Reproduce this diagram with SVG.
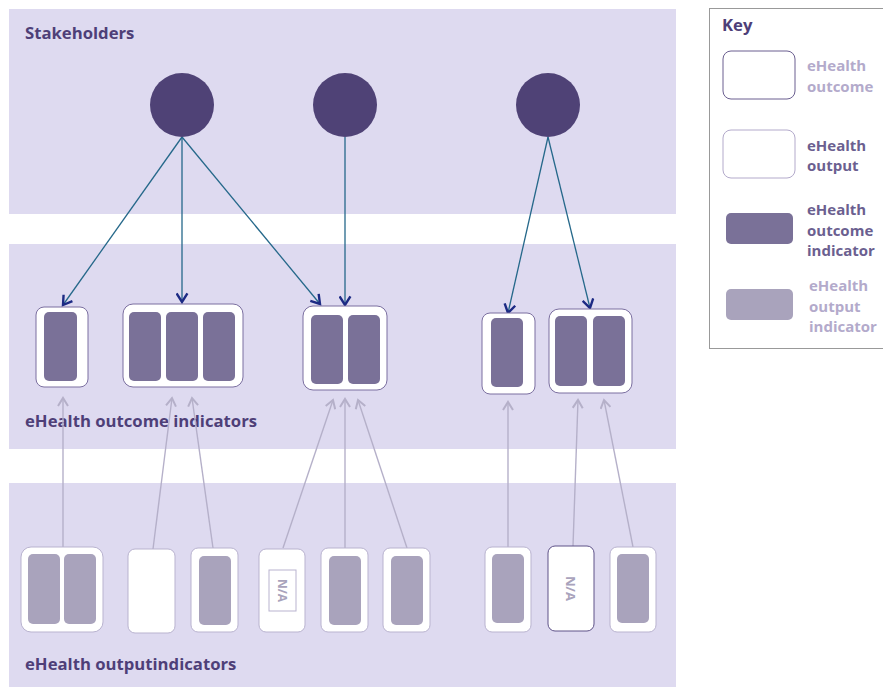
<svg xmlns="http://www.w3.org/2000/svg" width="883" height="687" viewBox="0 0 883 687">
<defs>
<style>
.band{fill:#dedaf0}
.lbl{font-family:"Open Sans","Liberation Sans",sans-serif;font-weight:bold;font-size:16.7px;fill:#4e3f78}
.klbl{font-family:"Open Sans","Liberation Sans",sans-serif;font-weight:bold;font-size:15px}
.dark{fill:#6b5f90}
.light{fill:#b3aacb}
.stake{fill:#4f4276}
.ocbox{fill:#fff;stroke:#7b6fa0;stroke-width:1}
.opbox{fill:#fff;stroke:#b9b3cf;stroke-width:1}
.oci{fill:#7a7198}
.opi{fill:#a9a3bc}
.blue{stroke:#25688a;stroke-width:1.3;fill:none;marker-end:url(#ab)}
.grey{stroke:#b5b0c9;stroke-width:1.4;fill:none;marker-end:url(#ag)}
.na{font-family:"Open Sans","Liberation Sans",sans-serif;font-weight:bold;font-size:12px;fill:#a9a3bc}
</style>
<marker id="ab" viewBox="0 0 12 12" refX="10" refY="6" markerWidth="13" markerHeight="13" markerUnits="userSpaceOnUse" orient="auto">
<path d="M2,1 L10,6 L2,11" fill="none" stroke="#1c2a84" stroke-width="2.2"/>
</marker>
<marker id="ag" viewBox="0 0 12 12" refX="10" refY="6" markerWidth="12" markerHeight="12" markerUnits="userSpaceOnUse" orient="auto">
<path d="M2,1 L10,6 L2,11" fill="none" stroke="#b5b0c9" stroke-width="2"/>
</marker>
</defs>
<rect width="883" height="687" fill="#fff"/>
<g id="bands">
<rect class="band" x="9" y="9" width="667" height="205"/>
<rect class="band" x="9" y="244" width="667" height="205"/>
<rect class="band" x="9" y="483" width="667" height="204"/>
<text class="lbl" x="25" y="39">Stakeholders</text>
<text class="lbl" x="25" y="427">eHealth outcome indicators</text>
<text class="lbl" x="25" y="670">eHealth outputindicators</text>
</g>
<g id="connectors">
<line class="blue" x1="182" y1="137" x2="63" y2="305"/>
<line class="blue" x1="182" y1="137" x2="182" y2="302"/>
<line class="blue" x1="182" y1="137" x2="320" y2="304"/>
<line class="blue" x1="345" y1="137" x2="345" y2="305"/>
<line class="blue" x1="548" y1="137" x2="508" y2="313"/>
<line class="blue" x1="548" y1="137" x2="590" y2="308"/>
<line class="grey" x1="63" y1="547" x2="63" y2="398"/>
<line class="grey" x1="153" y1="549" x2="172" y2="398"/>
<line class="grey" x1="213" y1="548" x2="192" y2="398"/>
<line class="grey" x1="283" y1="548" x2="333" y2="400"/>
<line class="grey" x1="345" y1="548" x2="345" y2="399"/>
<line class="grey" x1="407" y1="548" x2="358" y2="400"/>
<line class="grey" x1="508" y1="547" x2="508" y2="402"/>
<line class="grey" x1="573" y1="546" x2="578" y2="400"/>
<line class="grey" x1="633" y1="547" x2="604" y2="400"/>
</g>
<g id="stakeholder1"><circle class="stake" cx="182" cy="105" r="32"/></g>
<g id="stakeholder2"><circle class="stake" cx="345" cy="105" r="32"/></g>
<g id="stakeholder3"><circle class="stake" cx="548" cy="105" r="32"/></g>
<g id="outcomeA">
<rect class="ocbox" x="36" y="307" width="52" height="80" rx="8"/>
<rect class="oci" x="44" y="312" width="33" height="69" rx="5"/>
</g>
<g id="outcomeB">
<rect class="ocbox" x="123" y="304" width="120" height="83" rx="10"/>
<rect class="oci" x="129" y="312" width="32" height="69" rx="5"/>
<rect class="oci" x="166" y="312" width="32" height="69" rx="5"/>
<rect class="oci" x="203" y="312" width="32" height="69" rx="5"/>
</g>
<g id="outcomeC">
<rect class="ocbox" x="303" y="306" width="84" height="84" rx="10"/>
<rect class="oci" x="311" y="315" width="32" height="69" rx="5"/>
<rect class="oci" x="348" y="315" width="32" height="69" rx="5"/>
</g>
<g id="outcomeD">
<rect class="ocbox" x="482" y="313" width="53" height="81" rx="8"/>
<rect class="oci" x="491" y="318" width="32" height="69" rx="5"/>
</g>
<g id="outcomeE">
<rect class="ocbox" x="549" y="309" width="83" height="84" rx="10"/>
<rect class="oci" x="555" y="316" width="32" height="70" rx="5"/>
<rect class="oci" x="593" y="316" width="32" height="70" rx="5"/>
</g>
<g id="outputF">
<rect class="opbox" x="21" y="547" width="82" height="85" rx="10"/>
<rect class="opi" x="28" y="554" width="32" height="70" rx="5"/>
<rect class="opi" x="64" y="554" width="32" height="70" rx="5"/>
</g>
<g id="outputG">
<rect class="opbox" x="128" y="549" width="47" height="84" rx="7"/>
</g>
<g id="outputH">
<rect class="opbox" x="191" y="548" width="47" height="84" rx="7"/>
<rect class="opi" x="199" y="556" width="32" height="69" rx="5"/>
</g>
<g id="outputI">
<rect class="opbox" x="259" y="549" width="46" height="83" rx="7"/>
<rect x="269" y="570" width="27" height="41" fill="#fff" stroke="#b9b3cf" stroke-width="1"/>
<text class="na" x="282.5" y="590.5" text-anchor="middle" dominant-baseline="central" transform="rotate(90 282.5 590.5)">N/A</text>
</g>
<g id="outputJ">
<rect class="opbox" x="321" y="548" width="47" height="84" rx="7"/>
<rect class="opi" x="329" y="556" width="32" height="69" rx="5"/>
</g>
<g id="outputK">
<rect class="opbox" x="383" y="548" width="47" height="84" rx="7"/>
<rect class="opi" x="391" y="556" width="32" height="69" rx="5"/>
</g>
<g id="outputL">
<rect class="opbox" x="485" y="547" width="46" height="85" rx="7"/>
<rect class="opi" x="492" y="554" width="32" height="69" rx="5"/>
</g>
<g id="outputM">
<rect x="548" y="546" width="46" height="85" rx="7" fill="#fff" stroke="#5e5288" stroke-width="1"/>
<text class="na" x="571" y="588.5" text-anchor="middle" dominant-baseline="central" transform="rotate(90 571 588.5)" style="font-size:13px">N/A</text>
</g>
<g id="outputN">
<rect class="opbox" x="610" y="547" width="46" height="85" rx="7"/>
<rect class="opi" x="617" y="554" width="32" height="69" rx="5"/>
</g>
<g id="key">
<rect x="709.5" y="8.5" width="180" height="340" fill="#fff" stroke="#999" stroke-width="1"/>
<text class="lbl" x="722" y="31">Key</text>
<rect x="723" y="51" width="72" height="48" rx="8" fill="#fff" stroke="#6b5f90" stroke-width="1"/>
<text class="klbl light" x="807" y="71">eHealth</text>
<text class="klbl light" x="807" y="92">outcome</text>
<rect x="723" y="130" width="72" height="48" rx="8" fill="#fff" stroke="#b3aacb" stroke-width="1"/>
<text class="klbl dark" x="807" y="151">eHealth</text>
<text class="klbl dark" x="807" y="171">output</text>
<rect x="726" y="213" width="67" height="31" rx="5" class="oci"/>
<text class="klbl dark" x="807" y="215">eHealth</text>
<text class="klbl dark" x="807" y="236">outcome</text>
<text class="klbl dark" x="807" y="256">indicator</text>
<rect x="726" y="289" width="67" height="31" rx="5" class="opi"/>
<text class="klbl light" x="809" y="291">eHealth</text>
<text class="klbl light" x="809" y="312">output</text>
<text class="klbl light" x="809" y="332">indicator</text>
</g>
</svg>
